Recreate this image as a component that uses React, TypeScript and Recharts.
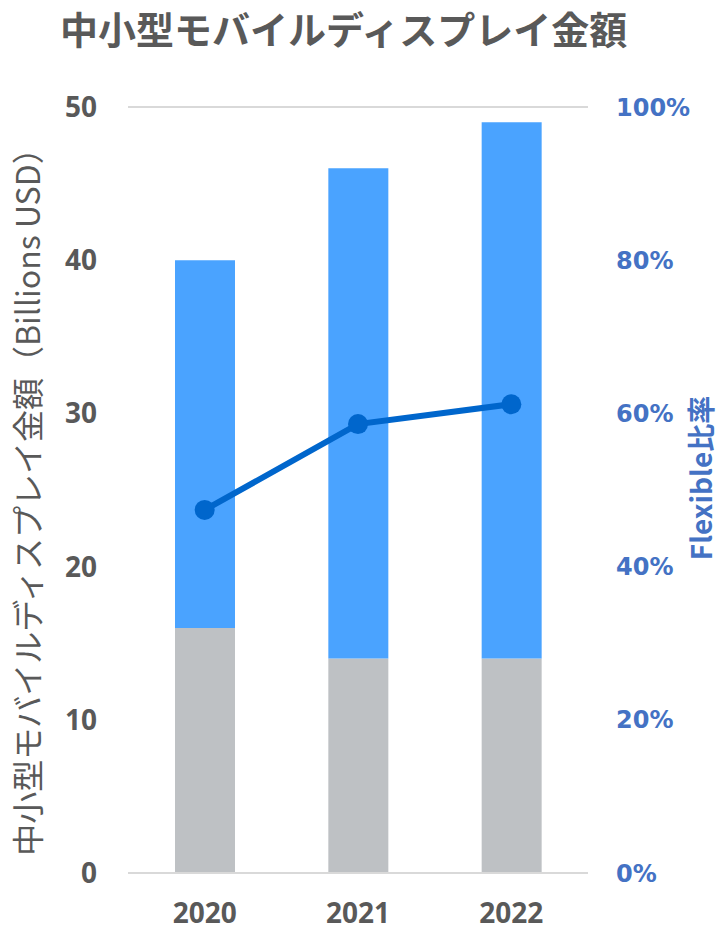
import { Bar, CartesianGrid, ComposedChart, Label, Line, XAxis, YAxis } from "recharts";

const years = ["2020", "2021", "2022"];
const rigidAmount = [16, 14, 14];
const flexibleAmount = [24, 32, 35];
const flexibleRatio = [47.4, 58.6, 61.2];
const amountTicks = [0, 10, 20, 30, 40, 50];
const ratioTicks = [0, 20, 40, 60, 80, 100];

const data = years.map((year, i) => ({
  year,
  rigid: rigidAmount[i],
  flexible: flexibleAmount[i],
  ratio: flexibleRatio[i],
}));

const GRAY_TEXT = "#595959";
const BLUE_TEXT = "#4472C4";
const CJK = '"Noto Sans CJK JP", "Noto Sans", sans-serif';

function App() {
  return (
    <div style={{ position: "absolute", left: 0, top: 0, width: 721, height: 930, background: "#fff" }}>
      <div
        style={{
          position: "absolute",
          left: 60,
          top: 0,
          fontFamily: CJK,
          fontWeight: 700,
          fontSize: 38,
          color: GRAY_TEXT,
          whiteSpace: "nowrap",
        }}
      >
        中小型モバイルディスプレイ金額
      </div>
      <ComposedChart
        width={721}
        height={930}
        data={data}
        margin={{ top: 107, right: 0, bottom: 0, left: 0 }}
        barSize={60}
      >
        <CartesianGrid vertical={false} stroke="#D9D9D9" strokeWidth={2} />
        <XAxis
          dataKey="year"
          axisLine={{ stroke: "#D9D9D9", strokeWidth: 2 }}
          tickLine={false}
          tickMargin={24}
          height={57}
          tick={{ fill: GRAY_TEXT, fontSize: 28, fontWeight: 700, fontFamily: '"Noto Sans", sans-serif' }}
        />
        <YAxis
          yAxisId="amount"
          width={128}
          domain={[0, 50]}
          ticks={amountTicks}
          axisLine={false}
          tickLine={false}
          tickMargin={25}
          tick={{ fill: GRAY_TEXT, fontSize: 28, fontWeight: 700, fontFamily: '"Noto Sans", sans-serif' }}
        >
          <Label
            value="中小型モバイルディスプレイ金額（Billions USD）"
            angle={-90}
            position="center"
            dx={-35}
            dy={4}
            style={{ fill: GRAY_TEXT, fontSize: 32, fontFamily: CJK, textAnchor: "middle" }}
          />
        </YAxis>
        <YAxis
          yAxisId="ratio"
          orientation="right"
          width={133}
          domain={[0, 100]}
          ticks={ratioTicks}
          tickFormatter={(v: number) => `${v}%`}
          axisLine={false}
          tickLine={false}
          tickMargin={22}
          tick={{ fill: BLUE_TEXT, fontSize: 24, fontWeight: 700, fontFamily: '"DejaVu Sans", sans-serif' }}
        >
          <Label
            value="Flexible比率"
            angle={-90}
            position="center"
            dx={48}
            dy={-12}
            style={{ fill: BLUE_TEXT, fontSize: 28, fontWeight: 700, fontFamily: CJK, textAnchor: "middle" }}
          />
        </YAxis>
        <Bar yAxisId="amount" dataKey="rigid" stackId="a" fill="#BEC1C4" isAnimationActive={false} />
        <Bar yAxisId="amount" dataKey="flexible" stackId="a" fill="#4AA3FF" isAnimationActive={false} />
        <Line
          yAxisId="ratio"
          dataKey="ratio"
          stroke="#0066CC"
          strokeWidth={6}
          dot={{ r: 10, fill: "#0066CC", stroke: "none" }}
          isAnimationActive={false}
        />
      </ComposedChart>
    </div>
  );
}

export default App;
